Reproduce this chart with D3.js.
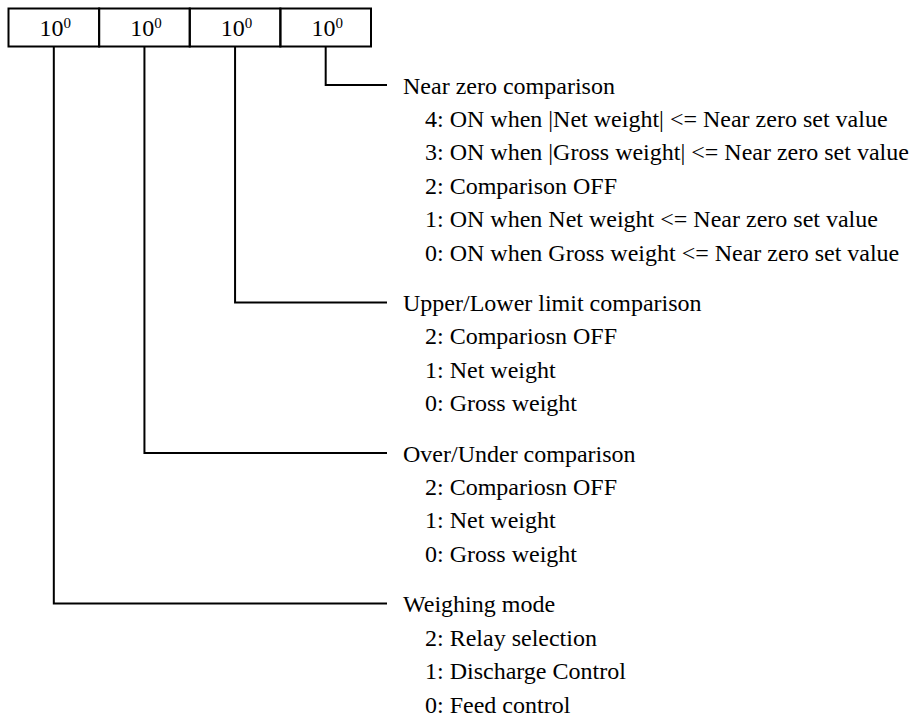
<!DOCTYPE html>
<html>
<head>
<meta charset="utf-8">
<script src="https://cdn.jsdelivr.net/npm/d3@7"></script>
<style>
  body { margin: 0; background: #fff; }
</style>
</head>
<body>
<script>
// digit cells of the setting value, left to right
var digits = [0, 1, 2, 3];
var digitBase = "10";
var digitExp = "0";

// one group per digit, listed from the rightmost digit down
var groupDigit = [3, 2, 1, 0];
var groupTitles = ["Near zero comparison", "Upper/Lower limit comparison", "Over/Under comparison", "Weighing mode"];
var groupItems = [
  ["4: ON when |Net weight| <= Near zero set value",
   "3: ON when |Gross weight| <= Near zero set value",
   "2: Comparison OFF",
   "1: ON when Net weight <= Near zero set value",
   "0: ON when Gross weight <= Near zero set value"],
  ["2: Compariosn OFF", "1: Net weight", "0: Gross weight"],
  ["2: Compariosn OFF", "1: Net weight", "0: Gross weight"],
  ["2: Relay selection", "1: Discharge Control", "0: Feed control"]
];

var width = 913, height = 718;
var boxTop = 8.5, boxBottom = 46.5;
var lineEnd = 387, titleX = 403, itemX = 425;
var serif = "'Liberation Serif', 'Times New Roman', Times, serif";

var svg = d3.select("body").append("svg")
    .attr("width", width)
    .attr("height", height);

var x = d3.scaleBand().domain(digits).range([8.5, 371]).padding(0);

// row positions: header, items, then half a row gap before the next header
var rows = [];
var r = 0;
groupTitles.forEach(function(t, g) {
  rows.push({ g: g, row: r });
  r += groupItems[g].length + 1.5;
});
var y = d3.scaleLinear().domain([0, 18.5]).range([85, 704]);

// digit boxes
var cells = svg.append("g").attr("class", "cells");
cells.selectAll("rect")
    .data(digits)
  .enter().append("rect")
    .attr("x", function(d) { return x(d); })
    .attr("y", boxTop)
    .attr("width", x.bandwidth())
    .attr("height", boxBottom - boxTop)
    .attr("fill", "none")
    .attr("stroke", "#000")
    .attr("stroke-width", 2);
var labels = cells.selectAll("text")
    .data(digits)
  .enter().append("text")
    .attr("x", function(d) { return x(d) + x.bandwidth() / 2 + 1.5; })
    .attr("y", 36)
    .attr("text-anchor", "middle")
    .style("font-family", serif)
    .style("font-size", "24px");
labels.append("tspan").text(digitBase);
labels.append("tspan").style("font-size", "15px").attr("dy", -8).text(digitExp);

// connectors and descriptions
var groups = svg.append("g").attr("class", "groups")
  .selectAll("g")
    .data(rows)
  .enter().append("g");

groups.append("path")
    .attr("fill", "none")
    .attr("stroke", "#000")
    .attr("stroke-width", 2)
    .attr("d", function(d) {
      var cx = x(groupDigit[d.g]) + x.bandwidth() / 2;
      var ly = y(d.row);
      return "M" + cx + "," + boxBottom + "V" + ly + "H" + lineEnd;
    });

groups.append("text")
    .attr("x", titleX)
    .attr("y", function(d) { return y(d.row) + 8.5; })
    .style("font-family", serif)
    .style("font-size", "24px")
    .text(function(d) { return groupTitles[d.g]; });

groups.selectAll("text.item")
    .data(function(d) { return groupItems[d.g].map(function(t, i) { return { t: t, row: d.row + i + 1 }; }); })
  .enter().append("text")
    .attr("class", "item")
    .attr("x", itemX)
    .attr("y", function(d) { return y(d.row) + 8.5; })
    .style("font-family", serif)
    .style("font-size", "24px")
    .text(function(d) { return d.t; });
</script>
</body>
</html>
